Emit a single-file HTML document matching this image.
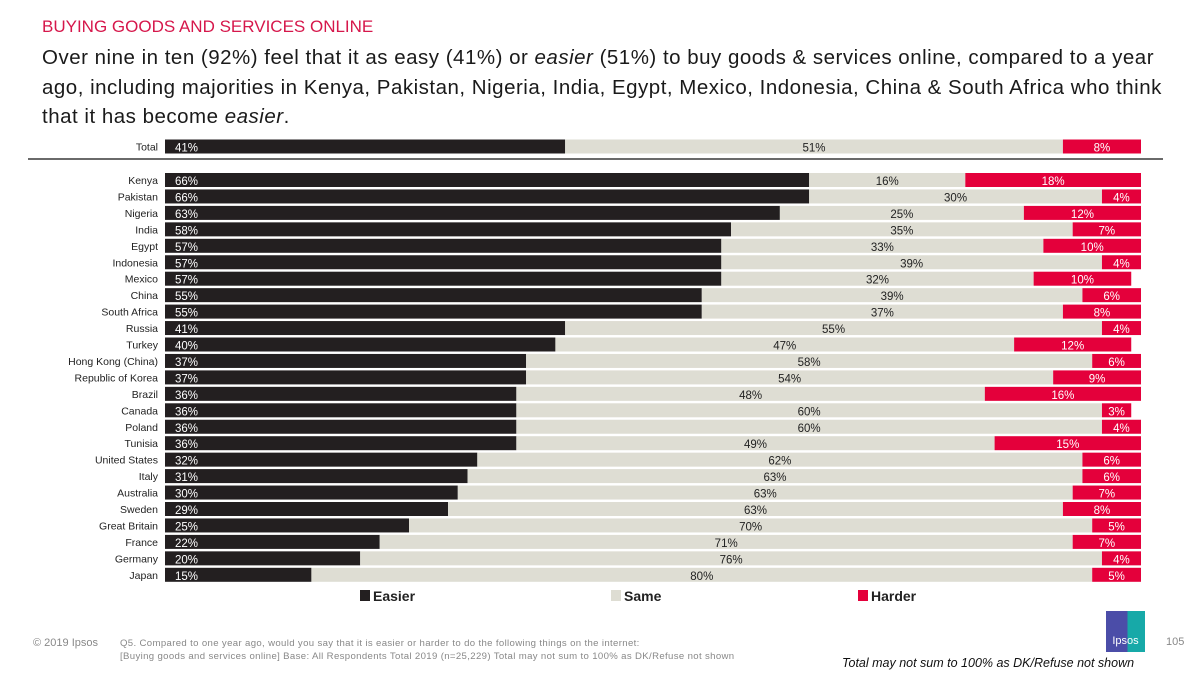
<!DOCTYPE html>
<html><head><meta charset="utf-8"><style>
body{margin:0;width:1200px;height:675px;background:#fff;font-family:"Liberation Sans",sans-serif;position:relative;overflow:hidden}
.t{position:absolute;white-space:nowrap}
</style></head><body>
<div class="t" style="left:42px;top:17px;font-size:17px;color:#d6174b">BUYING GOODS AND SERVICES ONLINE</div>
<div class="t" style="left:42px;top:43px;font-size:20.5px;letter-spacing:0.5px;line-height:29.5px;color:#1a1a1a">Over nine in ten (92%) feel that it as easy (41%) or <i>easier</i> (51%) to buy goods &amp; services online, compared to a year<br>ago, including majorities in Kenya, Pakistan, Nigeria, India, Egypt, Mexico, Indonesia, China &amp; South Africa who think<br>that it has become <i>easier</i>.</div>
<svg id="chart" width="1200" height="675" style="position:absolute;left:0;top:0"></svg>
<div class="t" style="left:33px;top:637px;font-size:11px;color:#888">© 2019 Ipsos</div>
<div class="t" style="left:120px;top:637px;font-size:9.6px;letter-spacing:0.35px;line-height:13px;color:#888">Q5. Compared to one year ago, would you say that it is easier or harder to do the following things on the internet:<br>[Buying goods and services online] Base: All Respondents Total 2019 (n=25,229) Total may not sum to 100% as DK/Refuse not shown</div>
<div style="position:absolute;left:1106px;top:611px;width:39px;height:41px;background:linear-gradient(90deg,#4b4da8 55%,#17a9a8 55%);color:#fff;font-size:11px;text-align:center;line-height:60px">Ipsos</div>
<div class="t" style="left:1166px;top:636px;font-size:11px;color:#888">105</div>
<div class="t" style="left:842px;top:656px;font-size:12.5px;font-style:italic;color:#111">Total may not sum to 100% as DK/Refuse not shown</div>
<script>
const categories=["Total","Kenya","Pakistan","Nigeria","India","Egypt","Indonesia","Mexico","China","South Africa","Russia","Turkey","Hong Kong (China)","Republic of Korea","Brazil","Canada","Poland","Tunisia","United States","Italy","Australia","Sweden","Great Britain","France","Germany","Japan"];
const easier=[41,66,66,63,58,57,57,57,55,55,41,40,37,37,36,36,36,36,32,31,30,29,25,22,20,15];
const same=[51,16,30,25,35,33,39,32,39,37,55,47,58,54,48,60,60,49,62,63,63,63,70,71,76,80];
const harder=[8,18,4,12,7,10,4,10,6,8,4,12,6,9,16,3,4,15,6,6,7,8,5,7,4,5];
const seriesNames=["Easier","Same","Harder"];
const colors=["#231f20","#deddd3","#e4003b"];
const svg=document.getElementById('chart');const NS="http://www.w3.org/2000/svg";
const x0=165,pxPer=9.76;
const xs=v=>x0+Math.min(v,100)*pxPer;
const yc=i=>i===0?146.5:180+(i-1)*16.45;
function mk(t,a){const e=document.createElementNS(NS,t);for(const k in a)e.setAttribute(k,a[k]);svg.appendChild(e);return e;}
const sep=mk('line',{x1:28,x2:1163,y1:159,y2:159,stroke:'#111','stroke-width':1.2});


categories.forEach((c,i)=>{
  const y=yc(i);
  const lab=mk('text',{x:158,y:y+4,'text-anchor':'end','font-size':10.5,fill:'#222'});lab.textContent=c;
  
  
  const vals=[easier[i],same[i],harder[i]];let acc=0;
  vals.forEach((v,s)=>{
    const a=xs(acc),b=xs(acc+v);
    const r=mk('rect',{x:a,y:y-7,width:Math.max(0,b-a),height:14,fill:colors[s]});
    
    
    const tx=s===0?a+10:(a+b)/2;
    const t=mk('text',{x:tx,y:y+5,'text-anchor':s===0?'start':'middle','font-size':11.5,fill:s===1?'#222':'#fff'});
    t.textContent=v+'%';
    
    
    acc+=v;
  });
});
const legX=[360,611,858];
seriesNames.forEach((n,s)=>{
  const r=mk('rect',{x:legX[s],y:590,width:10,height:11,fill:colors[s]});
  
  
  const t=mk('text',{x:legX[s]+13,y:601,'font-size':14,'font-weight':'bold',fill:'#222'});t.textContent=n;
  
  
});
</script>
</body></html>
